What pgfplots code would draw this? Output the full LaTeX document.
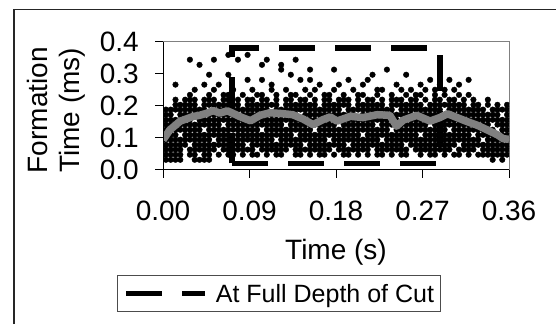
\documentclass[border=0pt]{standalone}
\usepackage{fontspec}
\setmainfont{Liberation Sans}
\usepackage{pgfplots}
\usepackage{pgfplotstable}
\pgfplotsset{compat=1.18}

% formation-time samples: one row per time step, one column per quantised level
\pgfplotstableread{
t a b c d e f g h j l m n o p q
0.003 0.031 0.047 0.063 0.078 0.094 0.109 0.125 0.141 0.156 0.172 0.188 nan nan nan nan
0.008 0.031 0.047 0.063 0.078 0.094 0.109 0.125 0.141 0.156 0.172 0.188 nan nan nan nan
0.013 0.031 0.047 0.063 0.078 0.094 0.109 0.125 0.141 0.156 nan 0.188 0.203 0.219 nan nan
0.018 0.031 0.047 0.063 0.078 0.094 nan 0.125 0.141 0.156 0.172 0.188 0.203 nan nan nan
0.023 nan nan nan 0.078 0.094 0.109 0.125 0.141 0.156 0.172 0.188 0.203 0.219 nan nan
0.028 nan 0.047 0.063 nan 0.094 0.109 0.125 0.141 0.156 0.172 0.188 0.203 0.219 0.234 nan
0.033 0.031 0.047 0.063 0.078 0.094 0.109 0.125 0.141 nan 0.172 0.188 0.203 0.219 nan 0.250
0.038 0.031 nan 0.063 0.078 0.094 0.109 0.125 0.141 0.156 0.172 0.188 nan nan nan nan
0.043 0.031 0.047 0.063 0.078 0.094 0.109 nan 0.141 0.156 0.172 0.188 0.203 0.219 nan nan
0.048 0.031 0.047 0.063 0.078 0.094 0.109 0.125 0.141 0.156 0.172 nan 0.203 0.219 0.234 nan
0.053 nan nan 0.063 0.078 nan 0.109 0.125 0.141 0.156 0.172 0.188 0.203 0.219 nan 0.250
0.058 nan 0.047 nan 0.078 0.094 0.109 0.125 0.141 0.156 0.172 0.188 0.203 nan nan nan
0.063 nan nan 0.063 0.078 0.094 0.109 0.125 nan 0.156 0.172 0.188 0.203 0.219 0.234 nan
0.068 nan 0.047 0.063 0.078 0.094 0.109 0.125 0.141 0.156 0.172 0.188 0.203 0.219 0.234 nan
0.073 nan 0.047 0.063 0.078 0.094 nan 0.125 0.141 0.156 0.172 0.188 0.203 nan nan 0.250
0.078 nan nan 0.063 0.078 0.094 0.109 0.125 0.141 0.156 nan 0.188 0.203 0.219 nan nan
0.083 nan 0.047 0.063 0.078 0.094 0.109 0.125 0.141 0.156 0.172 0.188 nan nan 0.234 nan
0.088 nan nan 0.063 nan 0.094 0.109 0.125 0.141 0.156 0.172 0.188 0.203 0.219 nan nan
0.093 nan 0.047 0.063 0.078 0.094 0.109 0.125 0.141 nan 0.172 0.188 0.203 0.219 nan 0.250
0.098 nan 0.047 nan 0.078 0.094 0.109 0.125 0.141 0.156 0.172 0.188 0.203 nan 0.234 nan
0.103 nan nan 0.063 0.078 0.094 0.109 nan 0.141 0.156 0.172 0.188 0.203 0.219 0.234 nan
0.108 nan 0.047 0.063 0.078 0.094 0.109 0.125 0.141 0.156 0.172 0.188 0.203 0.219 nan nan
0.113 nan nan 0.063 0.078 0.094 0.109 0.125 0.141 0.156 0.172 nan 0.203 nan nan 0.250
0.118 nan 0.047 0.063 0.078 nan 0.109 0.125 0.141 0.156 0.172 0.188 0.203 0.219 0.234 nan
0.123 nan 0.047 0.063 0.078 0.094 0.109 0.125 0.141 0.156 0.172 0.188 nan nan nan nan
0.128 nan nan 0.063 0.078 0.094 0.109 0.125 nan 0.156 0.172 0.188 0.203 0.219 nan 0.250
0.133 nan nan nan 0.078 0.094 0.109 0.125 0.141 0.156 0.172 0.188 0.203 0.219 0.234 nan
0.138 nan 0.047 0.063 0.078 0.094 nan 0.125 0.141 0.156 0.172 0.188 0.203 nan 0.234 nan
0.143 nan 0.047 0.063 0.078 0.094 0.109 0.125 0.141 0.156 nan 0.188 0.203 0.219 nan nan
0.148 nan nan 0.063 nan 0.094 0.109 0.125 0.141 0.156 0.172 0.188 0.203 0.219 nan 0.250
0.153 nan 0.047 0.063 0.078 0.094 0.109 0.125 0.141 0.156 0.172 0.188 0.203 nan 0.234 nan
0.158 nan nan 0.063 0.078 0.094 0.109 nan 0.141 0.156 0.172 0.188 0.203 0.219 nan 0.250
0.163 nan 0.047 0.063 0.078 0.094 0.109 0.125 0.141 0.156 0.172 0.188 nan nan nan nan
0.168 nan 0.047 0.063 0.078 0.094 0.109 0.125 0.141 nan 0.172 0.188 0.203 0.219 0.234 nan
0.173 nan nan 0.063 0.078 nan 0.109 0.125 0.141 0.156 0.172 0.188 0.203 0.219 0.234 nan
0.178 nan 0.047 nan 0.078 0.094 0.109 0.125 0.141 0.156 0.172 0.188 0.203 nan nan 0.250
0.183 nan nan 0.063 0.078 0.094 0.109 0.125 nan 0.156 0.172 0.188 0.203 0.219 nan nan
0.188 nan 0.047 0.063 0.078 0.094 0.109 0.125 0.141 0.156 0.172 nan 0.203 0.219 0.234 nan
0.193 nan 0.047 0.063 nan 0.094 0.109 0.125 0.141 0.156 0.172 0.188 0.203 0.219 nan nan
0.198 nan nan 0.063 0.078 0.094 0.109 0.125 0.141 0.156 0.172 0.188 nan nan nan 0.250
0.203 nan 0.047 0.063 0.078 0.094 0.109 0.125 0.141 0.156 nan 0.188 0.203 0.219 0.234 nan
0.208 nan nan 0.063 0.078 0.094 nan 0.125 0.141 0.156 0.172 0.188 0.203 nan 0.234 nan
0.213 nan 0.047 0.063 0.078 0.094 0.109 0.125 0.141 0.156 0.172 0.188 0.203 0.219 nan nan
0.218 nan nan nan 0.078 0.094 0.109 0.125 0.141 0.156 0.172 0.188 0.203 0.219 nan nan
0.223 nan 0.047 0.063 0.078 0.094 0.109 0.125 nan 0.156 0.172 0.188 0.203 nan 0.234 0.250
0.228 nan 0.047 0.063 0.078 nan 0.109 0.125 0.141 0.156 0.172 0.188 0.203 0.219 nan 0.250
0.233 nan nan 0.063 0.078 0.094 0.109 0.125 0.141 0.156 0.172 0.188 nan nan nan nan
0.238 nan 0.047 0.063 0.078 0.094 0.109 nan 0.141 0.156 0.172 0.188 0.203 0.219 0.234 nan
0.243 nan nan 0.063 0.078 0.094 0.109 0.125 0.141 0.156 0.172 nan 0.203 0.219 nan nan
0.248 nan 0.047 0.063 0.078 0.094 0.109 0.125 0.141 nan 0.172 0.188 0.203 0.219 nan 0.250
0.253 nan 0.047 0.063 nan 0.094 0.109 0.125 0.141 0.156 0.172 0.188 0.203 nan 0.234 nan
0.258 nan nan nan 0.078 0.094 0.109 0.125 0.141 0.156 0.172 0.188 0.203 0.219 nan 0.250
0.263 nan nan 0.063 0.078 0.094 0.109 0.125 0.141 0.156 nan 0.188 0.203 0.219 0.234 nan
0.268 nan 0.047 0.063 0.078 0.094 nan 0.125 0.141 0.156 0.172 0.188 0.203 nan 0.234 nan
0.273 nan nan 0.063 0.078 0.094 0.109 0.125 0.141 0.156 0.172 0.188 nan 0.219 nan 0.250
0.278 nan 0.047 0.063 0.078 0.094 0.109 0.125 nan 0.156 0.172 0.188 0.203 nan nan nan
0.283 nan 0.047 0.063 0.078 0.094 0.109 0.125 0.141 0.156 0.172 0.188 0.203 0.219 0.234 0.250
0.288 nan nan 0.063 0.078 nan 0.109 0.125 0.141 0.156 0.172 0.188 0.203 0.219 nan nan
0.293 nan 0.047 0.063 0.078 0.094 0.109 0.125 0.141 0.156 0.172 nan 0.203 nan 0.234 0.250
0.298 nan nan 0.063 0.078 0.094 0.109 nan 0.141 0.156 0.172 0.188 0.203 0.219 nan nan
0.303 nan 0.047 nan 0.078 0.094 0.109 0.125 0.141 0.156 0.172 0.188 0.203 0.219 nan 0.250
0.308 nan 0.047 0.063 nan 0.094 0.109 0.125 0.141 0.156 0.172 0.188 0.203 nan 0.234 nan
0.313 nan nan 0.063 0.078 0.094 0.109 0.125 0.141 nan 0.172 0.188 0.203 0.219 nan nan
0.318 nan 0.047 0.063 0.078 0.094 0.109 0.125 0.141 0.156 0.172 0.188 nan nan 0.234 nan
0.323 nan nan 0.063 0.078 0.094 nan 0.125 0.141 0.156 0.172 0.188 0.203 0.219 nan nan
0.328 nan 0.047 nan 0.078 0.094 0.109 0.125 0.141 0.156 0.172 0.188 0.203 nan nan nan
0.333 nan 0.047 0.063 0.078 nan 0.109 0.125 0.141 0.156 0.172 0.188 nan nan nan nan
0.338 nan 0.047 0.063 0.078 0.094 0.109 0.125 0.141 0.156 0.172 nan 0.203 0.219 nan nan
0.343 0.031 0.047 0.063 0.078 0.094 0.109 0.125 nan 0.156 0.172 0.188 nan nan nan nan
0.348 nan 0.047 0.063 0.078 0.094 0.109 nan 0.141 0.156 0.172 0.188 0.203 nan nan nan
0.353 0.031 0.047 0.063 0.078 0.094 0.109 0.125 0.141 0.156 nan 0.188 nan nan nan nan
0.358 nan 0.047 0.063 0.078 0.094 0.109 0.125 0.141 0.156 0.172 0.188 0.203 nan nan nan
}\samples

% fixed-size fonts loaded directly (Arial-metric Liberation Sans)
\font\bigfnt="Liberation Sans" at 28pt
\font\legfnt="Liberation Sans" at 25pt

\begin{document}
\begin{tikzpicture}
\useasboundingbox (0pt,0pt) rectangle (556pt,324pt);
\draw[line width=1.3pt, black!85] (14pt,0pt) -- (14pt,314.7pt) -- (556pt,314.7pt);
\begin{axis}[
  at={(163pt,154.3pt)}, anchor=south west,
  width=346pt, height=127.9pt, scale only axis,
  xmin=0, xmax=0.36, ymin=0, ymax=0.4,
  clip marker paths=true,
  xtick={0,0.09,0.18,0.27,0.36}, ytick={0,0.1,0.2,0.3,0.4},
  xtick pos=left, ytick pos=left,
  tick align=outside, major tick length=8pt,
  tick style={black, line width=0.9pt},
  axis line style={black!50, line width=0.9pt},
  /pgf/number format/assume math mode=true,
  xticklabel style={font=\bigfnt, inner sep=0pt, anchor=base, yshift=-43pt, /pgf/number format/fixed, /pgf/number format/fixed zerofill, /pgf/number format/precision=2},
  yticklabel style={font=\bigfnt, inner sep=0pt, anchor=east, xshift=-16pt, /pgf/number format/fixed, /pgf/number format/fixed zerofill, /pgf/number format/precision=1},
  xlabel={\bigfnt Time (s)},
  xlabel style={at={(axis description cs:0.5,0)}, anchor=base, yshift=-90pt, inner sep=0pt, font=\bigfnt},
  ylabel={\begin{tabular}{@{}c@{}}\bigfnt Formation\\[8pt]\bigfnt Time (ms)\end{tabular}},
  ylabel style={at={(axis description cs:-0.308,0.465)}, anchor=center, inner sep=0pt, font=\bigfnt},
  legend style={at={(axis description cs:-0.133,-0.827)}, anchor=north west, draw=black!70, line width=0.9pt, inner xsep=6pt, inner ysep=8pt, font=\legfnt, nodes={inner sep=0pt, font=\legfnt}, /tikz/every odd column/.append style={column sep=7.7pt}},
  legend cell align=left,
  legend image code/.code={\path[draw=none] (0pt,-3pt) rectangle (82pt,3pt); \draw[black, line width=5.5pt, dash pattern=on 36pt off 20pt, dash phase=0pt] (3pt,0pt) -- (82pt,0pt);},
  extra description/.code={\draw[black, line width=0.9pt] (axis description cs:0,1) -- (axis description cs:0,0) -- (axis description cs:1,0);},
]
\pgfplotsinvokeforeach{a,b,c,d,e,f,g,h,j,l,m,n,o,p,q}{
  \addplot[only marks, mark=*, mark size=2.8pt, black, forget plot] table[x=t, y=#1] {\samples};
}
\addplot[only marks, mark=*, mark size=2.8pt, black, forget plot] coordinates {
 (0.013,0.266) (0.043,0.266) (0.058,0.266) (0.113,0.266) (0.163,0.266) (0.183,0.266) (0.208,0.266) (0.243,0.266) (0.268,0.266) (0.288,0.266) (0.308,0.266)
 (0.088,0.281) (0.103,0.281) (0.143,0.281) (0.153,0.281) (0.193,0.281) (0.213,0.281) (0.278,0.281) (0.298,0.281) (0.318,0.281)
 (0.048,0.297) (0.068,0.297) (0.133,0.297) (0.218,0.297) (0.253,0.297)
 (0.123,0.313) (0.153,0.313) (0.178,0.313) (0.233,0.313)
 (0.038,0.328) (0.103,0.328) (0.123,0.328)
 (0.028,0.344) (0.053,0.344) (0.078,0.344) (0.108,0.344) (0.138,0.344)
 (0.068,0.359) (0.088,0.359)
};
\addplot[black, mark=none, line width=5.5pt, dash pattern=on 36pt off 20pt, dash phase=6pt, line cap=butt, line join=miter] coordinates {
 (0.072,0.02) (0.072,0.38) (0.288,0.38) (0.288,0.02) (0.072,0.02)
};
\addlegendentry{\legfnt At Full Depth of Cut}
\addplot[black!50, mark=none, line width=7.5pt, line join=round, forget plot] coordinates {
 (0.000,0.093) (0.007,0.124) (0.018,0.152) (0.031,0.166) (0.038,0.170) (0.046,0.177) (0.052,0.185) (0.059,0.177) (0.067,0.184) (0.073,0.176) (0.080,0.166) (0.091,0.153) (0.101,0.170) (0.111,0.178) (0.122,0.176) (0.135,0.172) (0.146,0.158) (0.156,0.141) (0.166,0.156) (0.174,0.165) (0.181,0.152) (0.195,0.167) (0.208,0.163) (0.223,0.172) (0.236,0.170) (0.243,0.136) (0.250,0.155) (0.264,0.170) (0.278,0.152) (0.288,0.163) (0.296,0.175) (0.306,0.163) (0.316,0.151) (0.327,0.139) (0.337,0.125) (0.348,0.109) (0.354,0.097) (0.360,0.095)
};
\end{axis}
\end{tikzpicture}
\end{document}
